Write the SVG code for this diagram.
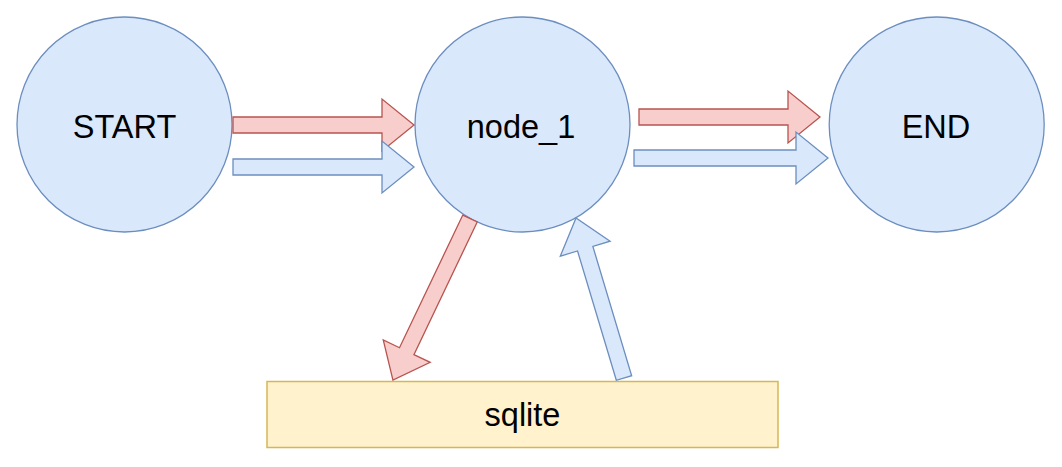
<svg xmlns="http://www.w3.org/2000/svg" width="1062" height="467" viewBox="0 0 1062 467">
  <style>
    .circle { fill: #dae8fc; stroke: #6c8ebf; stroke-width: 1.3; }
    .db { fill: #fff2cc; stroke: #d6b656; stroke-width: 1.5; }
    .label { font-family: "Liberation Sans", Arial, sans-serif; font-size: 32.5px; fill: #000000; text-anchor: middle; }
    .red { fill: #f8cecc; stroke: #b85450; stroke-width: 1.3; stroke-linejoin: miter; }
    .blue { fill: #dae8fc; stroke: #6c8ebf; stroke-width: 1.3; stroke-linejoin: miter; }
  </style>
  <rect width="1062" height="467" fill="#ffffff"/>
  <g id="start">
    <circle class="circle" cx="124.5" cy="124.5" r="107.5"/>
    <text class="label" x="124.5" y="137.5">START</text>
  </g>
  <g id="node_1">
    <circle class="circle" cx="522.5" cy="124.5" r="107.5"/>
    <text class="label" x="521" y="137.5">node_1</text>
  </g>
  <g id="end">
    <circle class="circle" cx="936.7" cy="124.5" r="107.5"/>
    <text class="label" x="936" y="137.5">END</text>
  </g>
  <g id="sqlite">
    <rect class="db" x="267" y="381.5" width="511" height="66"/>
    <text class="label" x="522.5" y="426">sqlite</text>
  </g>
  <g id="connectors">
    <polygon class="red" points="233,117 382,117 382,99 414,125 382,151 382,133 233,133"/>
    <polygon class="blue" points="233,159 382,159 382,141 414,167 382,193 382,175 233,175"/>
    <polygon class="red" points="639,109 788,109 788,91 820,117 788,143 788,125 639,125"/>
    <polygon class="blue" points="634,150 796,150 796,132 828,158 796,184 796,166 634,166"/>
    <polygon class="red" transform="translate(470,218.5) rotate(115.5)" points="0,-8 147,-8 147,-26 179,0 147,26 147,8 0,8"/>
    <polygon class="blue" transform="translate(624,378) rotate(-106.7)" points="0,-8 135,-8 135,-26 167,0 135,26 135,8 0,8"/>
  </g>
</svg>
